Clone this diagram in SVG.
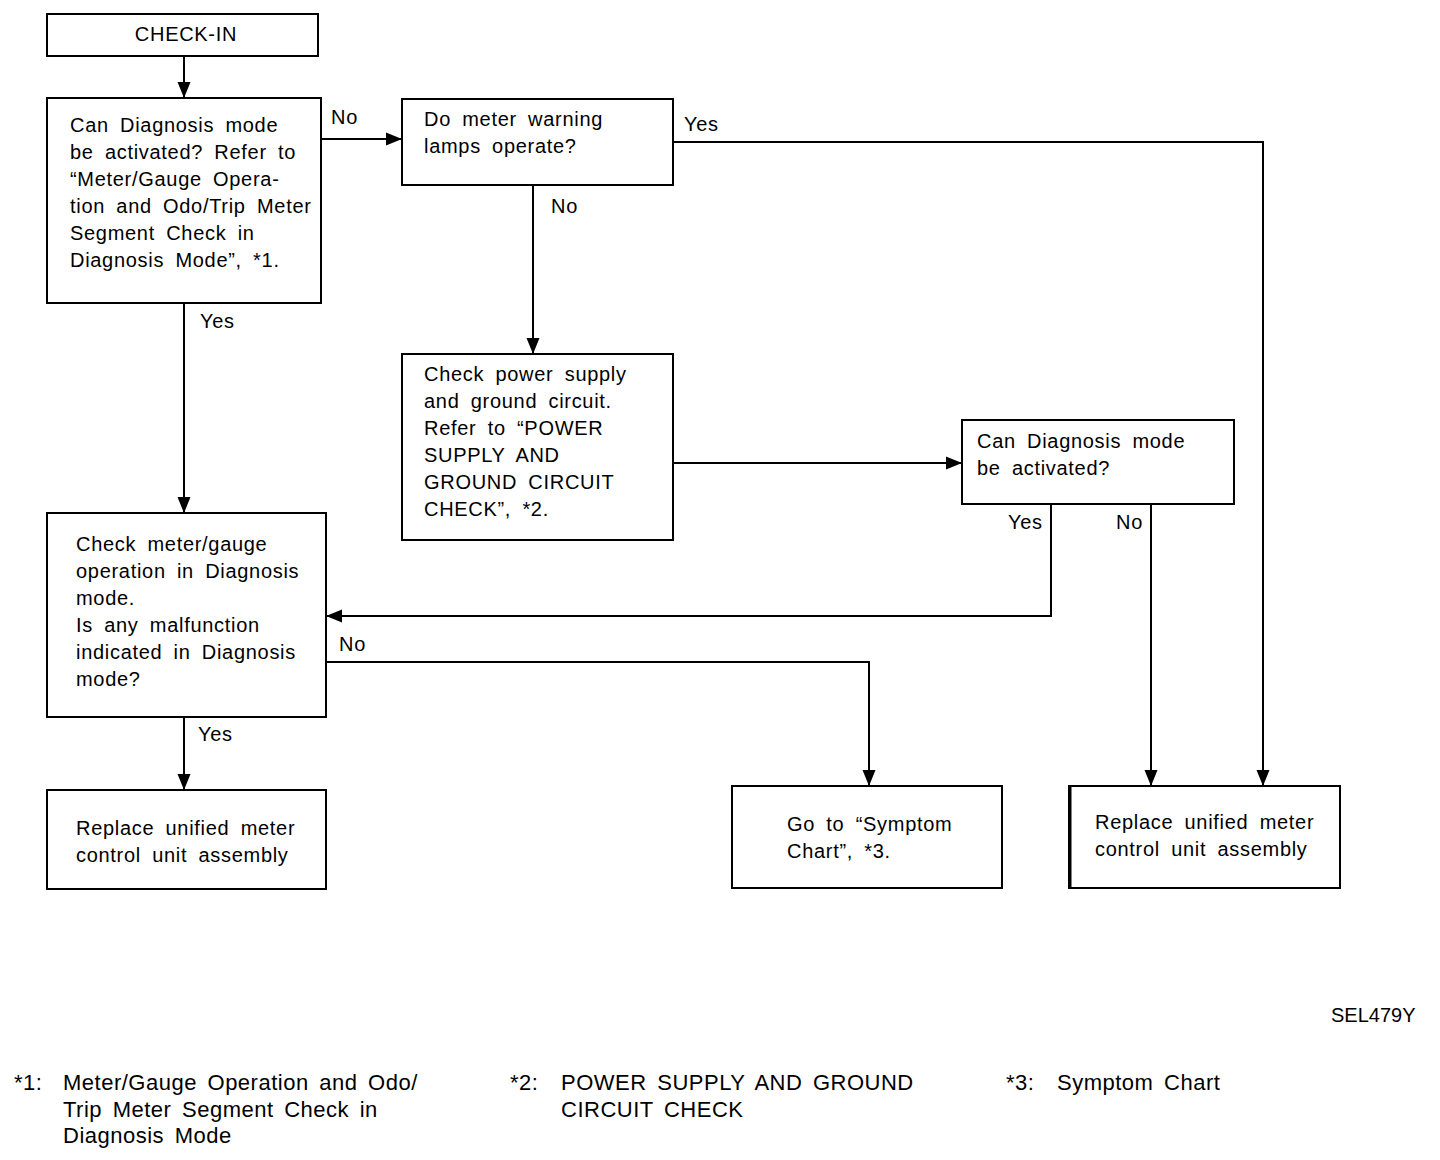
<svg xmlns="http://www.w3.org/2000/svg" width="1440" height="1160" viewBox="0 0 1440 1160">
<style>
.box{fill:#fff;stroke:#000;stroke-width:2}
.t{font-family:"Liberation Sans",Arial,sans-serif;font-size:20px;letter-spacing:0.7px;word-spacing:5px;fill:#000}
.f{font-family:"Liberation Sans",Arial,sans-serif;font-size:22px;letter-spacing:0.5px;word-spacing:4px;fill:#000}
.c{fill:none;stroke:#000;stroke-width:2}
</style>
<defs>
<marker id="ah" markerWidth="16" markerHeight="14" refX="15" refY="7" orient="auto" markerUnits="userSpaceOnUse">
<path d="M0,0.5 L16,7 L0,13.5 Z" fill="#000"/>
</marker>
</defs>
<rect width="1440" height="1160" fill="#fff"/>
<g id="connectors">
<path class="c" d="M184,56 V97" marker-end="url(#ah)"/>
<path class="c" d="M321,139 H401" marker-end="url(#ah)"/>
<path class="c" d="M673,142 H1263 V785" marker-end="url(#ah)"/>
<path class="c" d="M533,185 V353" marker-end="url(#ah)"/>
<path class="c" d="M673,463 H961" marker-end="url(#ah)"/>
<path class="c" d="M1051,504 V616 H327" marker-end="url(#ah)"/>
<path class="c" d="M1151,504 V785" marker-end="url(#ah)"/>
<path class="c" d="M184,303 V512" marker-end="url(#ah)"/>
<path class="c" d="M326,662 H869 V785" marker-end="url(#ah)"/>
<path class="c" d="M184,717 V789" marker-end="url(#ah)"/>
<text class="t" x="331" y="124">No</text>
<text class="t" x="684" y="131">Yes</text>
<text class="t" x="551" y="213">No</text>
<text class="t" x="1008" y="529">Yes</text>
<text class="t" x="1116" y="529">No</text>
<text class="t" x="200" y="328">Yes</text>
<text class="t" x="339" y="651">No</text>
<text class="t" x="198" y="741">Yes</text>
</g>
<g id="checkin">
<rect class="box" x="47" y="14" width="271" height="42"/>
<text class="t" x="186" y="41" text-anchor="middle">CHECK-IN</text>
</g>
<g id="q1">
<rect class="box" x="47" y="98" width="274" height="205"/>
<text class="t" x="70" y="132">Can Diagnosis mode</text>
<text class="t" x="70" y="159">be activated? Refer to</text>
<text class="t" x="70" y="186">“Meter/Gauge Opera-</text>
<text class="t" x="70" y="213">tion and Odo/Trip Meter</text>
<text class="t" x="70" y="240">Segment Check in</text>
<text class="t" x="70" y="267">Diagnosis Mode”, *1.</text>
</g>
<g id="q2">
<rect class="box" x="402" y="99" width="271" height="86"/>
<text class="t" x="424" y="126">Do meter warning</text>
<text class="t" x="424" y="153">lamps operate?</text>
</g>
<g id="check-power">
<rect class="box" x="402" y="354" width="271" height="186"/>
<text class="t" x="424" y="381">Check power supply</text>
<text class="t" x="424" y="408">and ground circuit.</text>
<text class="t" x="424" y="435">Refer to “POWER</text>
<text class="t" x="424" y="462">SUPPLY AND</text>
<text class="t" x="424" y="489">GROUND CIRCUIT</text>
<text class="t" x="424" y="516">CHECK”, *2.</text>
</g>
<g id="q3">
<rect class="box" x="962" y="420" width="272" height="84"/>
<text class="t" x="977" y="448">Can Diagnosis mode</text>
<text class="t" x="977" y="475">be activated?</text>
</g>
<g id="q4">
<rect class="box" x="47" y="513" width="279" height="204"/>
<text class="t" x="76" y="551">Check meter/gauge</text>
<text class="t" x="76" y="578">operation in Diagnosis</text>
<text class="t" x="76" y="605">mode.</text>
<text class="t" x="76" y="632">Is any malfunction</text>
<text class="t" x="76" y="659">indicated in Diagnosis</text>
<text class="t" x="76" y="686">mode?</text>
</g>
<g id="replace1">
<rect class="box" x="47" y="790" width="279" height="99"/>
<text class="t" x="76" y="835">Replace unified meter</text>
<text class="t" x="76" y="862">control unit assembly</text>
</g>
<g id="symptom">
<rect class="box" x="732" y="786" width="270" height="102"/>
<text class="t" x="787" y="831">Go to “Symptom</text>
<text class="t" x="787" y="858">Chart”, *3.</text>
</g>
<g id="replace2">
<rect class="box" x="1069" y="786" width="271" height="102"/>
<line x1="1070" y1="786" x2="1070" y2="888" stroke="#000" stroke-width="3"/>
<text class="t" x="1095" y="829">Replace unified meter</text>
<text class="t" x="1095" y="856">control unit assembly</text>
</g>
<g id="notes">
<text class="t" x="1331" y="1022" style="letter-spacing:0">SEL479Y</text>
<text class="f" x="14" y="1090">*1:</text>
<text class="f" x="63" y="1090">Meter/Gauge Operation and Odo/</text>
<text class="f" x="63" y="1117">Trip Meter Segment Check in</text>
<text class="f" x="63" y="1143">Diagnosis Mode</text>
<text class="f" x="510" y="1090">*2:</text>
<text class="f" x="561" y="1090">POWER SUPPLY AND GROUND</text>
<text class="f" x="561" y="1117">CIRCUIT CHECK</text>
<text class="f" x="1006" y="1090">*3:</text>
<text class="f" x="1057" y="1090">Symptom Chart</text>
</g>
</svg>
